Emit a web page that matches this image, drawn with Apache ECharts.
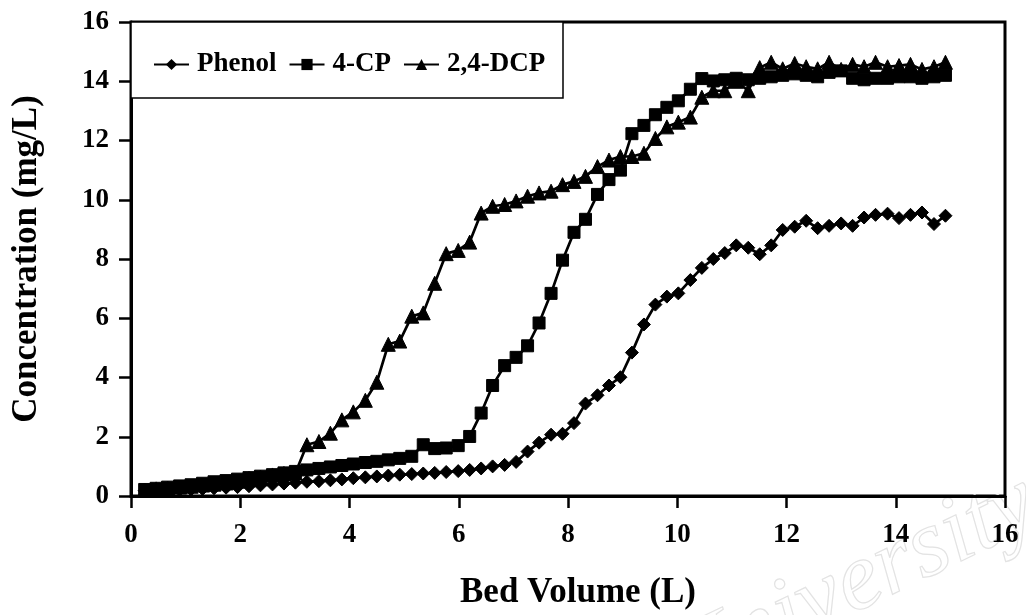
<!DOCTYPE html>
<html>
<head>
<meta charset="utf-8">
<script src="https://cdn.jsdelivr.net/npm/echarts@6/dist/echarts.min.js"></script>
<style>
html,body{margin:0;padding:0;background:#fff;}
#chart{width:1026px;height:615px;}
</style>
</head>
<body>
<div id="chart"></div>
<script>
const bedVolume = [0.25,0.46,0.67,0.89,1.10,1.31,1.52,1.74,1.95,2.16,2.37,2.59,2.80,3.01,3.22,3.44,3.65,3.86,4.07,4.29,4.50,4.71,4.92,5.14,5.35,5.56,5.77,5.99,6.20,6.41,6.62,6.84,7.05,7.26,7.47,7.69,7.90,8.11,8.32,8.54,8.75,8.96,9.17,9.39,9.60,9.81,10.02,10.24,10.45,10.66,10.87,11.08,11.30,11.51,11.72,11.93,12.15,12.36,12.57,12.78,13.00,13.21,13.42,13.63,13.85,14.06,14.27,14.48,14.70,14.91];
const phenol = [0.18,0.19,0.2,0.21,0.22,0.24,0.26,0.28,0.3,0.33,0.36,0.39,0.42,0.45,0.48,0.5,0.53,0.56,0.6,0.63,0.66,0.69,0.72,0.74,0.76,0.78,0.81,0.84,0.88,0.93,1.0,
  1.05,1.15,1.5,1.8,2.07,2.1,2.46,3.12,3.4,3.73,4.01,4.84,5.79,6.46,6.73,6.84,7.29,7.7,8.0,8.2,8.46,8.38,8.16,8.46,8.98,9.09,9.29,9.04,9.12,9.2,9.12,9.4,9.49,9.53,9.38,9.49,9.57,9.18,9.46];
const cp4 = [0.22,0.26,0.3,0.34,0.38,0.43,0.48,0.52,0.57,0.62,0.67,0.72,0.78,0.83,0.88,0.93,0.98,1.03,1.08,1.13,1.17,1.22,1.27,1.34,
  1.73,1.6,1.62,1.7,2.01,2.8,3.73,4.4,4.68,5.07,5.84,6.84,7.96,8.9,9.34,10.18,10.68,11.0,12.23,12.51,12.87,13.12,13.34,13.73,
  14.09,14.01,14.05,14.1,14.05,14.1,14.15,14.2,14.25,14.2,14.15,14.3,14.35,14.1,14.05,14.1,14.1,14.15,14.15,14.1,14.15,14.2];
const dcp24 = [0.2,0.24,0.27,0.3,0.33,0.37,0.4,0.44,0.5,0.59,0.64,0.71,0.76,0.78,
  1.73,1.84,2.12,2.57,2.84,3.23,3.84,5.12,5.23,6.07,6.18,7.18,8.18,8.29,8.57,9.55,9.78,
  9.84,9.96,10.12,10.23,10.29,10.51,10.62,10.79,11.12,11.34,11.46,11.46,11.57,12.07,12.46,12.62,12.79,13.46,13.68,13.68,14.0,13.68,
  14.46,14.64,14.42,14.6,14.49,14.42,14.64,14.4,14.57,14.49,14.64,14.49,14.53,14.57,14.4,14.49,14.64];
const seriesNames = ['Phenol','4-CP','2,4-DCP'];
const seriesSymbols = ['diamond','rect','triangle'];
const xTitle = 'Bed Volume (L)';
const yTitle = 'Concentration (mg/L)';

const FONT = "'Liberation Serif','Times New Roman',serif";
const chart = echarts.init(document.getElementById('chart'), null, {renderer:'canvas'});
const pairs = v => bedVolume.map((x,i)=>[x, v[i]]);
const allValues = [phenol, cp4, dcp24];
const symbolSizes = [13, 12, 14];

chart.setOption({
  animation:false,
  backgroundColor:'#fff',
  grid:{left:131,right:21,top:22,bottom:113,show:true,borderColor:'#000',borderWidth:3,backgroundColor:'transparent'},
  graphic:[
    {type:'text', left:650, top:455, rotation:0.45, z:0,
     style:{text:'University', font:"italic 96px 'Liberation Serif',serif", fill:'rgba(0,0,0,0)', stroke:'#e3e3e3', lineWidth:1.2}},
    {type:'rect', z:1, shape:{x:131,y:22,width:432,height:76}, style:{fill:'#fff',stroke:'#000',lineWidth:1.5}}
  ],
  legend:{
    left:148, top:46, itemWidth:35, itemHeight:14, itemGap:12, z:5,
    data:seriesNames,
    textStyle:{fontFamily:FONT, fontWeight:'bold', fontSize:27, color:'#000', padding:[0,0,0,3]}
  },
  xAxis:{
    type:'value', min:0, max:16, interval:2,
    name:xTitle, nameLocation:'middle', nameGap:79,
    nameTextStyle:{fontFamily:FONT, fontWeight:'bold', fontSize:35, color:'#000', padding:[0,0,0,20]},
    axisLine:{lineStyle:{color:'#000',width:3}},
    axisTick:{inside:false,length:12,lineStyle:{color:'#000',width:2.5}},
    axisLabel:{fontFamily:FONT, fontWeight:'bold', fontSize:27, color:'#000', margin:26},
    splitLine:{show:false}
  },
  yAxis:{
    type:'value', min:0, max:16, interval:2,
    name:yTitle, nameLocation:'middle', nameGap:87,
    nameTextStyle:{fontFamily:FONT, fontWeight:'bold', fontSize:35, color:'#000'},
    axisLine:{lineStyle:{color:'#000',width:3}},
    axisTick:{inside:false,length:12,lineStyle:{color:'#000',width:2.5}},
    axisLabel:{fontFamily:FONT, fontWeight:'bold', fontSize:27, color:'#000', margin:22},
    splitLine:{show:false}
  },
  series: seriesNames.map((name,k)=>({
    name, type:'line', data:pairs(allValues[k]),
    symbol:seriesSymbols[k], symbolSize:symbolSizes[k], showSymbol:true,
    lineStyle:{color:'#000',width:2.7},
    itemStyle:{color:'#000',borderColor:'#000'},
    z:3
  }))
});
</script>
</body>
</html>
